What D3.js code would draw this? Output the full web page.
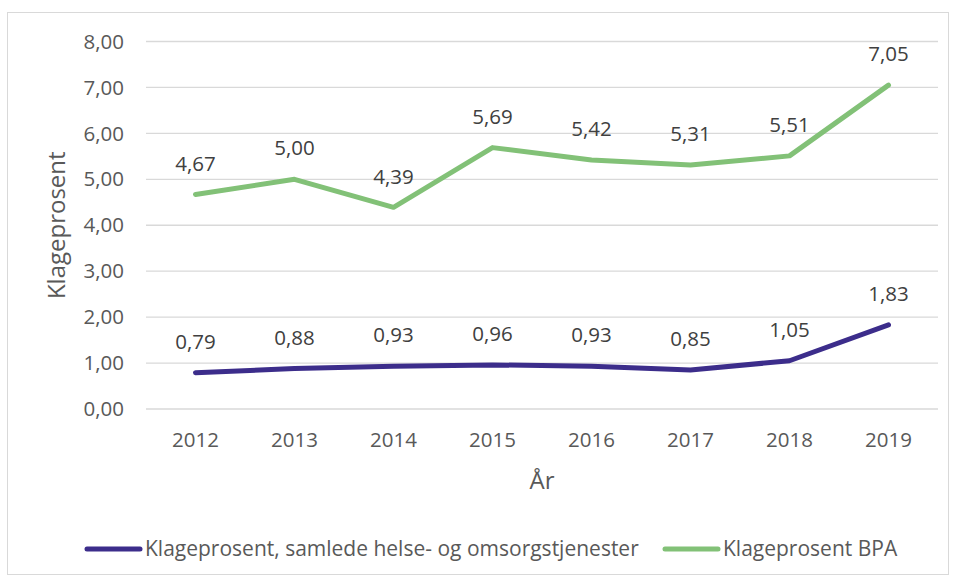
<!DOCTYPE html>
<html>
<head>
<meta charset="utf-8">
<script src="https://cdn.jsdelivr.net/npm/d3@7"></script>
<style>
  body { margin: 0; background: #fff; }
  text { font-family: "Open Sans", sans-serif; }
</style>
</head>
<body>
<div id="chart"></div>
<script>
const years = ['2012', '2013', '2014', '2015', '2016', '2017', '2018', '2019']
const totalValues = [0.79, 0.88, 0.93, 0.96, 0.93, 0.85, 1.05, 1.83]
const bpaValues = [4.67, 5.00, 4.39, 5.69, 5.42, 5.31, 5.51, 7.05]
const yTicks = [0, 1, 2, 3, 4, 5, 6, 7, 8]
const seriesNames = ['Klageprosent, samlede helse- og omsorgstjenester', 'Klageprosent BPA']
const colors = ['#3c2d8b', '#82c177']

const W = 957, H = 581
const fmt = v => d3.format('.2f')(v).replace('.', ',')

const svg = d3.select('#chart')
  .append('svg')
  .attr('width', W)
  .attr('height', H)

// chart border
svg.append('rect')
  .attr('x', 7.5).attr('y', 12.5)
  .attr('width', 941).attr('height', 562)
  .attr('fill', '#fff')
  .attr('stroke', '#d9d9d9')

const x = d3.scalePoint().domain(years).range([146, 938]).padding(0.5)
const y = d3.scaleLinear().domain([0, 8]).range([409, 41.5])

// gridlines
svg.append('g')
  .selectAll('line')
  .data(yTicks)
  .join('line')
  .attr('x1', 146).attr('x2', 938)
  .attr('y1', d => y(d)).attr('y2', d => y(d))
  .attr('stroke', '#d9d9d9')
  .attr('stroke-width', 1.3)

// y axis labels
svg.append('g')
  .selectAll('text')
  .data(yTicks)
  .join('text')
  .attr('x', 124)
  .attr('y', d => y(d))
  .attr('dy', '0.35em')
  .attr('text-anchor', 'end')
  .attr('font-size', 20.5)
  .attr('fill', '#595959')
  .text(fmt)

// x axis labels
svg.append('g')
  .selectAll('text')
  .data(years)
  .join('text')
  .attr('x', d => x(d))
  .attr('y', 440)
  .attr('dy', '0.35em')
  .attr('text-anchor', 'middle')
  .attr('font-size', 20.5)
  .attr('fill', '#595959')
  .text(d => d)

// axis titles
svg.append('text')
  .attr('transform', `translate(57, ${(y(0) + y(8)) / 2}) rotate(-90)`)
  .attr('dy', '0.35em')
  .attr('text-anchor', 'middle')
  .attr('font-size', 24)
  .attr('fill', '#595959')
  .text('Klageprosent')

svg.append('text')
  .attr('x', 542).attr('y', 481)
  .attr('dy', '0.35em')
  .attr('text-anchor', 'middle')
  .attr('font-size', 24)
  .attr('fill', '#595959')
  .text('År')

const line = d3.line()
  .x((d, i) => x(years[i]))
  .y(d => y(d))

const series = [totalValues, bpaValues]

series.forEach((vals, s) => {
  svg.append('path')
    .datum(vals)
    .attr('d', line)
    .attr('fill', 'none')
    .attr('stroke', colors[s])
    .attr('stroke-width', 5)
    .attr('stroke-linecap', 'round')
    .attr('stroke-linejoin', 'round')

  svg.append('g')
    .selectAll('text')
    .data(vals)
    .join('text')
    .attr('x', (d, i) => x(years[i]))
    .attr('y', d => y(d) - 31)
    .attr('dy', '0.35em')
    .attr('text-anchor', 'middle')
    .attr('font-size', 20.5)
    .attr('fill', '#404040')
    .text(fmt)
})

// legend
const legendX = [87, 665]
const legend = svg.append('g')
  .selectAll('g')
  .data(seriesNames)
  .join('g')
  .attr('transform', (d, i) => `translate(${legendX[i]}, 549)`)

legend.append('line')
  .attr('x1', 0).attr('x2', 53)
  .attr('stroke', (d, i) => colors[i])
  .attr('stroke-width', 5)
  .attr('stroke-linecap', 'round')

legend.append('text')
  .attr('x', 58)
  .attr('dy', '0.35em')
  .attr('font-size', 21)
  .attr('fill', '#595959')
  .text(d => d)
</script>
</body>
</html>
